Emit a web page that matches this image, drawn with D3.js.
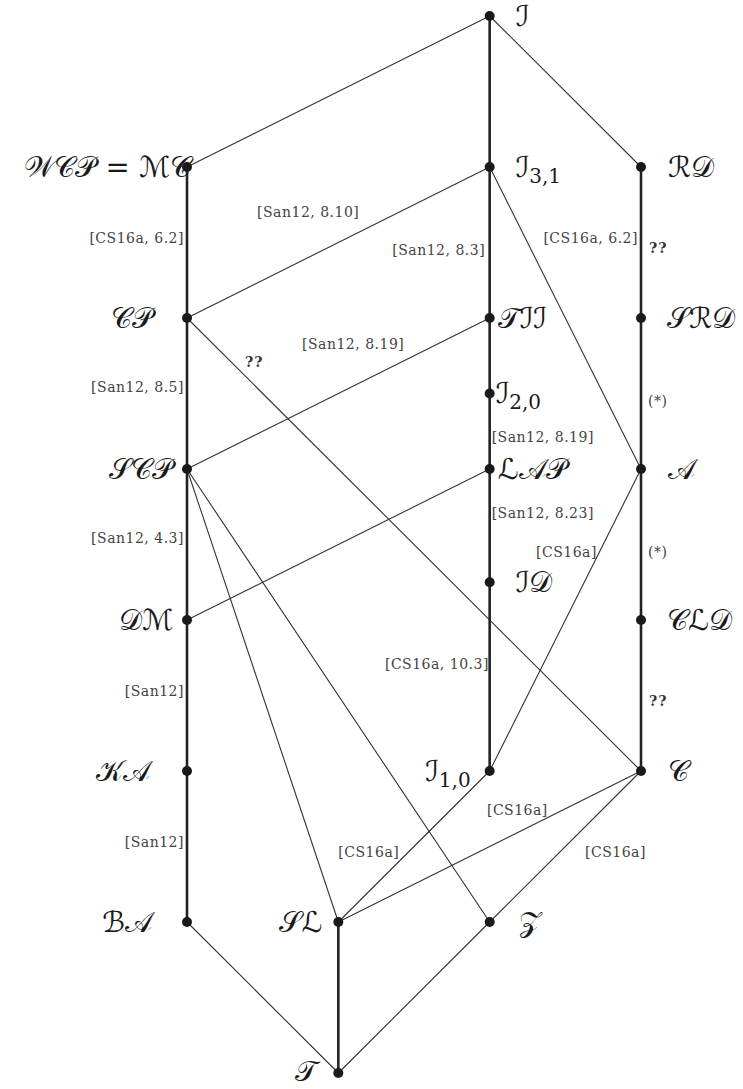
<html>
  <head>
    <meta charset="utf-8">
    <style>
      body { margin: 0; background: #ffffff; }
      .edge { fill: none; stroke: #222222; stroke-linecap: round; }
      .edge.thick { stroke-width: 2.6; }
      .edge.thin { stroke-width: 1.1; stroke: #333333; }
      .node { fill: #1a1a1a; }
      .nlabel { font-family: "DejaVu Serif", "DejaVu Sans", serif; font-size: 29px; fill: #1a1a1a; }
      .note { font-family: "DejaVu Serif", "Liberation Serif", serif; font-size: 14px; letter-spacing: 0.5px; fill: #444444; }
      .note.q { font-weight: bold; fill: #333333; letter-spacing: 1px; }
    </style>
  </head>
  <body>
    <script src="https://d3js.org/d3.v7.min.js"></script>
    <script type="text/javascript">
      // nodes: id, label, subscript, column, level
      var nodeIds    = ["I", "I31", "WCP", "RD", "CP", "TII", "SRD", "I20", "SCP", "LAP", "A", "ID", "DM", "CLD", "KA", "I10", "C", "BA", "SL", "Z", "T"];
      var nodeLabels = ["ℐ", "ℐ", "𝒲𝒞𝒫 = ℳ𝒞", "ℛ𝒟", "𝒞𝒫", "𝒯ℐℐ", "𝒮ℛ𝒟", "ℐ", "𝒮𝒞𝒫", "ℒ𝒜𝒫", "𝒜", "ℐ𝒟", "𝒟ℳ", "𝒞ℒ𝒟", "𝒦𝒜", "ℐ", "𝒞", "ℬ𝒜", "𝒮ℒ", "𝒵", "𝒯"];
      var nodeSubs   = ["", "3,1", "", "", "", "", "", "2,0", "", "", "", "", "", "", "", "1,0", "", "", "", "", ""];
      var nodeCols   = [2, 2, 0, 3, 0, 2, 3, 2, 0, 2, 3, 2, 0, 3, 0, 2, 3, 0, 1, 2, 1];
      var nodeLevels = [7, 6, 6, 6, 5, 5, 5, 4.5, 4, 4, 4, 3.25, 3, 3, 2, 2, 2, 1, 1, 1, 0];

      // covering relations: [upper, lower]
      var thickEdges = [["I", "I31"], ["I31", "TII"], ["TII", "I20"], ["I20", "LAP"], ["LAP", "ID"], ["ID", "I10"],
                        ["WCP", "CP"], ["CP", "SCP"], ["SCP", "DM"], ["DM", "KA"], ["KA", "BA"],
                        ["RD", "SRD"], ["SRD", "A"], ["A", "CLD"], ["CLD", "C"], ["SL", "T"]];
      var thinEdges  = [["I", "WCP"], ["I", "RD"], ["I31", "CP"], ["I31", "A"], ["CP", "C"], ["TII", "SCP"],
                        ["LAP", "DM"], ["SCP", "SL"], ["SCP", "Z"], ["A", "I10"], ["I10", "SL"],
                        ["C", "SL"], ["C", "Z"], ["BA", "T"], ["Z", "T"]];

      // edge annotations: text, column, level, anchor
      var noteTexts   = ["[CS16a, 6.2]", "[San12, 8.10]", "[San12, 8.3]", "[CS16a, 6.2]", "??",
                         "[San12, 8.19]", "??", "[San12, 8.5]", "(*)", "[San12, 8.19]",
                         "[San12, 8.23]", "[San12, 4.3]", "[CS16a]", "(*)", "[San12]",
                         "[CS16a, 10.3]", "??", "[CS16a]", "[San12]", "[CS16a]", "[CS16a]"];
      var noteCols    = [-0.02, 0.463, 1.97, 2.98, 3.053, 0.76, 0.383, -0.02, 3.046, 2.013,
                         2.013, -0.02, 2.306, 3.046, -0.02, 1.308, 3.053, 1.982, -0.02, 1.0, 2.63];
      var noteLevels  = [5.53, 5.70, 5.45, 5.53, 5.46, 4.83, 4.71, 4.54, 4.45, 4.21,
                         3.71, 3.54, 3.45, 3.45, 2.53, 2.71, 2.46, 1.74, 1.53, 1.46, 1.46];
      var noteAnchors = ["end", "start", "end", "end", "start", "start", "start", "end", "start", "start",
                         "start", "end", "start", "start", "end", "start", "start", "start", "end", "start", "start"];

      // where each node label sits relative to its dot
      var labelPlace = {
        I: [26, "start"], I31: [26, "start"], WCP: [4, "end"], RD: [27, "start"],
        CP: [-34, "end"], TII: [8, "start"], SRD: [26, "start"], I20: [6, "start"],
        SCP: [-14, "end"], LAP: [8, "start"], A: [27, "start"], ID: [26, "start"],
        DM: [-14, "end"], CLD: [26, "start"], KA: [-37, "end"], I10: [-19, "end"],
        C: [27, "start"], BA: [-35, "end"], SL: [-16, "end"], Z: [29, "start"], T: [-21, "end"]
      };

      function autorun() {
        var width = 743, height = 1089;

        var svg = d3.select("body").append("svg")
          .attr("width", width)
          .attr("height", height);

        var x = d3.scaleLinear().domain([0, 3]).range([187, 641]);
        var y = d3.scaleLinear().domain([0, 7]).range([1073, 16]);

        var nodes = nodeIds.map(function(id, i) {
          return {id: id, label: nodeLabels[i], sub: nodeSubs[i], c: nodeCols[i], l: nodeLevels[i]};
        });
        var byId = {};
        nodes.forEach(function(n) { byId[n.id] = n; });

        var edges = thinEdges.map(function(e) { return {a: byId[e[0]], b: byId[e[1]], cls: "thin"}; })
          .concat(thickEdges.map(function(e) { return {a: byId[e[0]], b: byId[e[1]], cls: "thick"}; }));

        // edges
        svg.append("g").selectAll("line")
          .data(edges)
          .enter().append("line")
          .attr("class", function(d) { return "edge " + d.cls; })
          .attr("x1", function(d) { return x(d.a.c); })
          .attr("y1", function(d) { return y(d.a.l); })
          .attr("x2", function(d) { return x(d.b.c); })
          .attr("y2", function(d) { return y(d.b.l); });

        // annotations
        var notes = noteTexts.map(function(t, i) {
          return {text: t, c: noteCols[i], l: noteLevels[i], anchor: noteAnchors[i]};
        });
        svg.append("g").selectAll("text")
          .data(notes)
          .enter().append("text")
          .attr("class", function(d) { return d.text == "??" ? "note q" : "note"; })
          .attr("x", function(d) { return x(d.c); })
          .attr("y", function(d) { return y(d.l); })
          .attr("dy", "0.35em")
          .attr("text-anchor", function(d) { return d.anchor; })
          .text(function(d) { return d.text; });

        // dots
        svg.append("g").selectAll("circle")
          .data(nodes)
          .enter().append("circle")
          .attr("class", "node")
          .attr("cx", function(d) { return x(d.c); })
          .attr("cy", function(d) { return y(d.l); })
          .attr("r", 5);

        // node labels
        var lab = svg.append("g").selectAll("text")
          .data(nodes)
          .enter().append("text")
          .attr("class", "nlabel")
          .attr("x", function(d) { return x(d.c) + labelPlace[d.id][0]; })
          .attr("y", function(d) { return y(d.l) + (d.id == "T" ? -2 : 0); })
          .attr("dy", "0.33em")
          .attr("text-anchor", function(d) { return labelPlace[d.id][1]; });
        lab.append("tspan").text(function(d) { return d.label; });
        lab.filter(function(d) { return d.sub != ""; })
          .append("tspan")
          .attr("dy", "0.3em")
          .attr("font-size", "20px")
          .text(function(d) { return d.sub; });
      }
      if (window.addEventListener) window.addEventListener("load", autorun, false);
      else window.onload = autorun;
    </script>
  </body>
</html>
